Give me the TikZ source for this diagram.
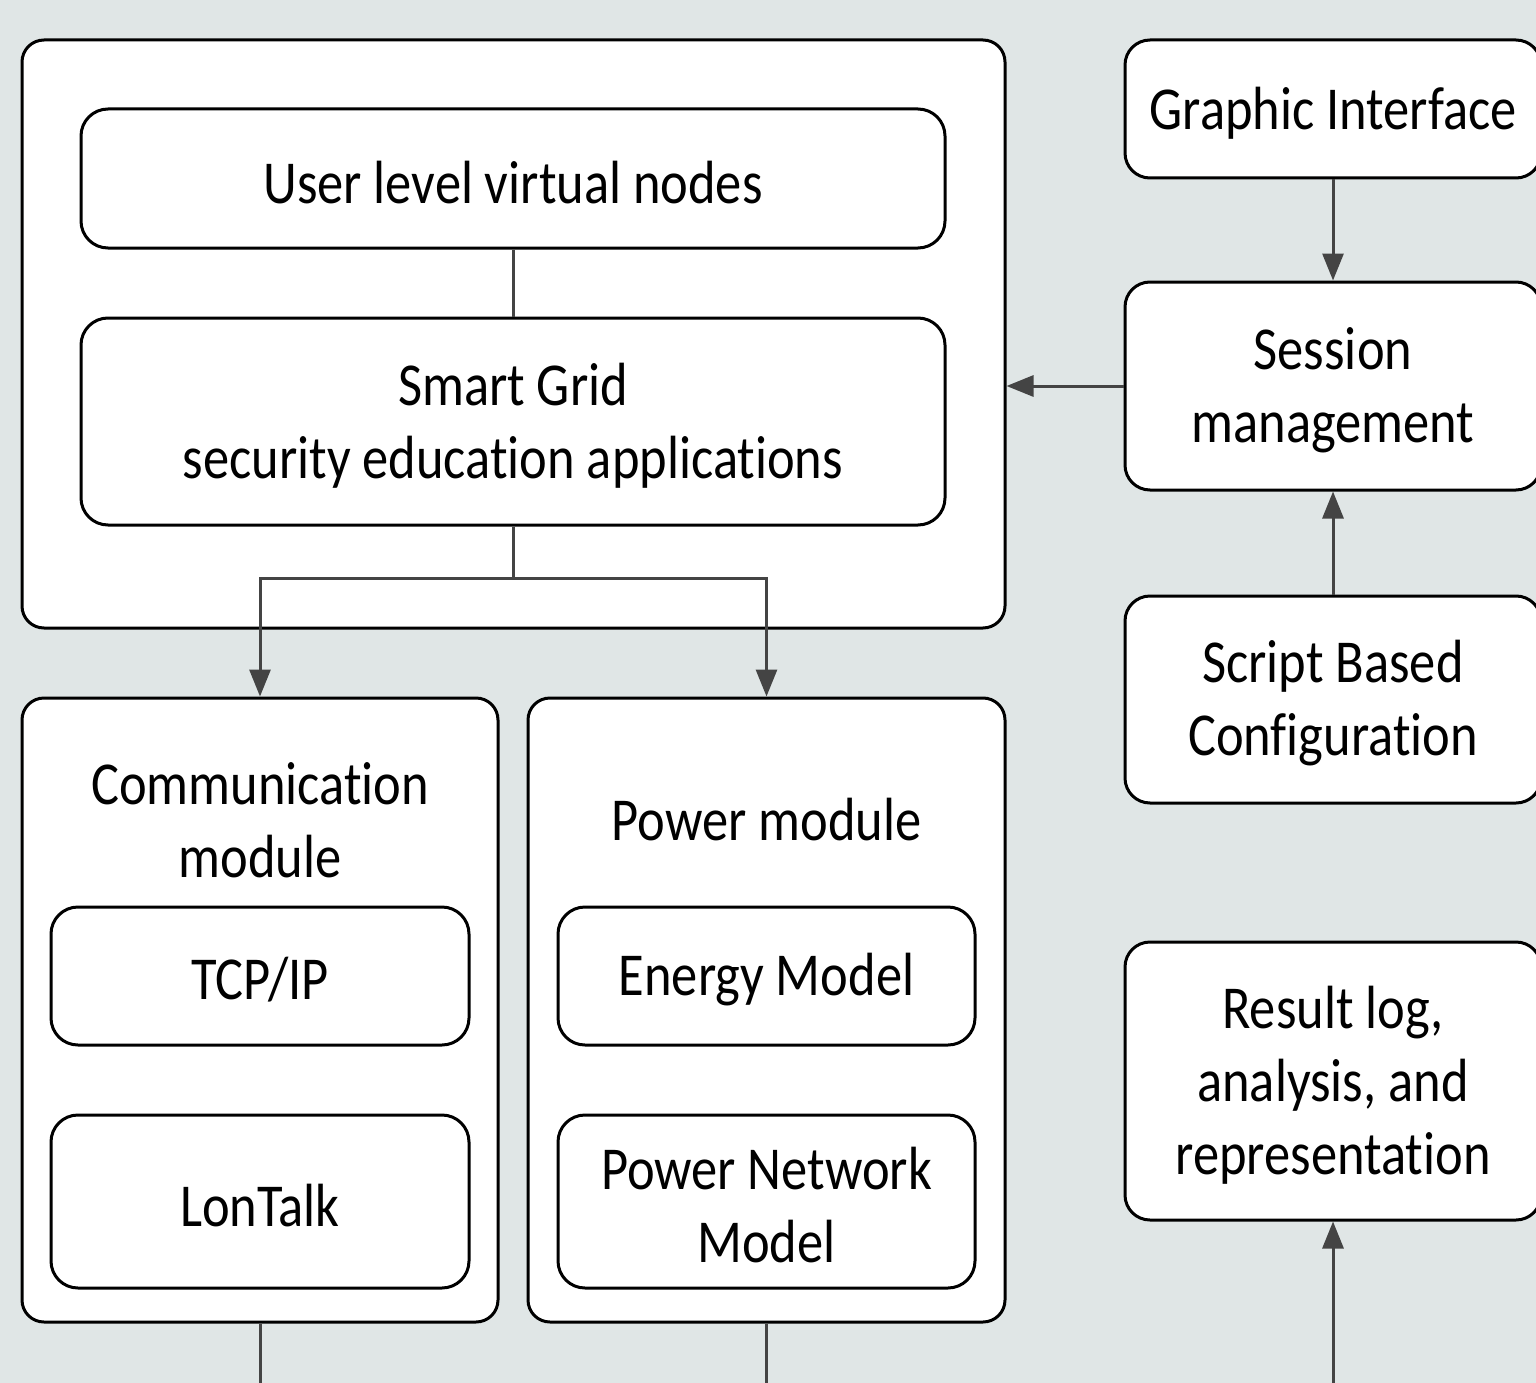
\documentclass[tikz,border=0pt]{standalone}
\usepackage{fontspec}
\setmainfont[FakeStretch=0.86, Ligatures=NoCommon]{Carlito}
\usetikzlibrary{arrows.meta}
\definecolor{bgc}{HTML}{E0E6E6}
\definecolor{linec}{HTML}{444444}
\tikzset{
  box/.style={draw=black, line width=3pt, fill=white, rounded corners=#1, inner sep=0pt},
  box/.default=25pt,
  txt/.style={inner sep=0pt, align=center, font=\fontsize{61}{73}\selectfont},
  conn/.style={draw=linec, line width=3pt},
  arr/.style={conn, -{Triangle[length=27pt,width=21pt]}},
}
% text placed in the middle of a box, set slightly low
\newcommand\boxtext[2]{\node[txt] at ([yshift=-4pt]#1.center) {#2};}
\begin{document}
\begin{tikzpicture}[x=1pt, y=-1pt]
  \useasboundingbox (0,0) rectangle (1536,1383);
  \clip (0,0) rectangle (1536,1383);
  \fill[bgc] (0,0) rectangle (1536,1383);

  % simulator core
  \node[box=22pt, minimum width=983pt, minimum height=588pt] (outer) at (513.5,334) {};
  \node[box=27pt, minimum width=864pt, minimum height=139pt] (user) at (513,178.5) {};
  \node[box=27pt, minimum width=864pt, minimum height=207pt] (smart) at (513,421.5) {};
  \boxtext{user}{User level virtual nodes}
  \boxtext{smart}{Smart Grid\\security education applications}

  % communication and power modules
  \node[box=22pt, minimum width=476pt, minimum height=624pt] (comm) at (260,1010) {};
  \node[box=22pt, minimum width=477pt, minimum height=624pt] (power) at (766.5,1010) {};
  \node[txt] (commt) at (260,820) {Communication\\module};
  \node[txt] (powert) at (766.5,820) {Power module};
  \node[box=27pt, minimum width=418pt, minimum height=138pt] (tcp) at (260,976) {};
  \node[box=27pt, minimum width=418pt, minimum height=173pt] (lon) at (260,1201.5) {};
  \node[box=27pt, minimum width=417pt, minimum height=138pt] (energy) at (766.5,976) {};
  \node[box=27pt, minimum width=417pt, minimum height=173pt] (pnm) at (766.5,1201.5) {};
  \boxtext{tcp}{TCP/IP}
  \boxtext{lon}{LonTalk}
  \boxtext{energy}{Energy Model}
  \boxtext{pnm}{Power Network\\Model}

  % control column
  \node[box, minimum width=416pt, minimum height=138pt] (gui) at (1333,109) {};
  \node[box, minimum width=416pt, minimum height=208pt] (session) at (1333,386) {};
  \node[box, minimum width=416pt, minimum height=207pt] (script) at (1333,699.5) {};
  \node[box, minimum width=416pt, minimum height=278pt] (result) at (1333,1081) {};
  \boxtext{gui}{Graphic Interface}
  \boxtext{session}{Session\\management}
  \boxtext{script}{Script Based\\Configuration}
  \boxtext{result}{Result log,\\analysis, and\\representation}

  % free ends at the lower edge
  \coordinate (commout) at (260,1383);
  \coordinate (powerout) at (766.5,1383);
  \coordinate (resultin) at (1333,1383);

  % connectors
  \draw[conn] (user.south) -- (smart.north);
  \draw[arr] (smart.south) -- ++(0,52) -| (comm.north);
  \draw[arr] (smart.south) -- ++(0,52) -| (power.north);
  \draw[arr] (gui.south) -- (session.north);
  \draw[arr] (script.north) -- (session.south);
  \draw[arr] (session.west) -- (outer.east |- session.west);
  \draw[arr] (resultin) -- (result.south);
  \draw[conn] (comm.south) -- (commout);
  \draw[conn] (power.south) -- (powerout);
\end{tikzpicture}
\end{document}
